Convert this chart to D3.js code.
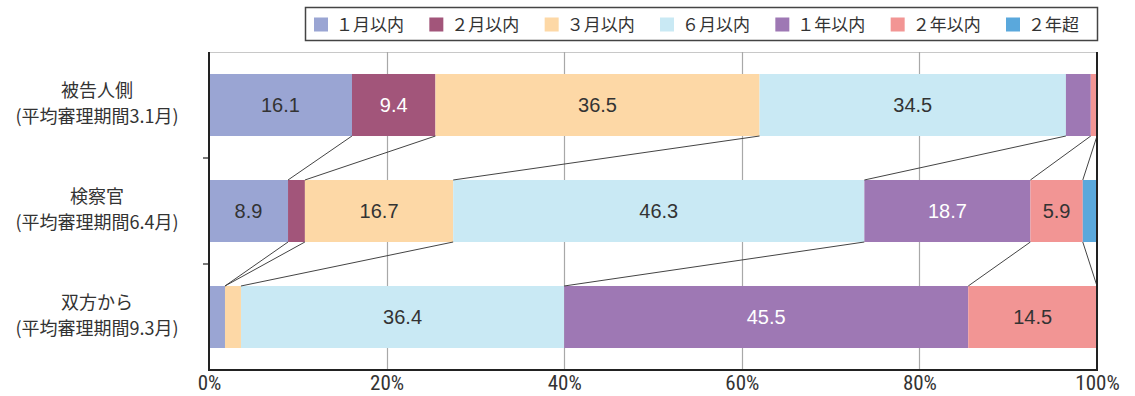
<!DOCTYPE html>
<html><head><meta charset="utf-8">
<script src="https://cdn.jsdelivr.net/npm/d3@7"></script>
<style>body{margin:0;background:#fff;}svg{display:block;}</style>
</head><body>
<svg id="c" width="1135" height="396"></svg>
<script>
const categories = ["被告人側", "検察官", "双方から"];
const subLabels = ["(平均審理期間3.1月)", "(平均審理期間6.4月)", "(平均審理期間9.3月)"];
const seriesNames = ["１月以内", "２月以内", "３月以内", "６月以内", "１年以内", "２年以内", "２年超"];
const s1 = [16.1, 8.9, 1.8];
const s2 = [9.4, 1.9, 0.0];
const s3 = [36.5, 16.7, 1.8];
const s4 = [34.5, 46.3, 36.4];
const s5 = [2.8, 18.7, 45.5];
const s6 = [0.7, 5.9, 14.5];
const s7 = [0.0, 1.6, 0.0];
const seriesValues = [s1, s2, s3, s4, s5, s6, s7];
const colors = ["#9aa5d3", "#a2557a", "#fdd8a6", "#c9e9f4", "#9e78b4", "#f29594", "#5aa8dc"];
const labelColors = ["#333", "#fff", "#333", "#333", "#fff", "#333", "#fff"];
const xTicks = [0, 20, 40, 60, 80, 100];
const labelMin = 5;

const svg = d3.select("#c");
const m = {l: 209, r: 1097, t: 52, b: 370};
const x = d3.scaleLinear().domain([0, 100]).range([m.l, m.r]);
const y = d3.scaleBand().domain(categories).range([m.t, m.b]).paddingInner(0.415).paddingOuter(0.2075);
const font = "'Noto Sans CJK JP', 'Noto Sans', sans-serif";
const numFont = "'Liberation Sans', Arial, sans-serif";

// top border
svg.append("line").attr("x1", m.l).attr("x2", m.r).attr("y1", m.t + 0.5).attr("y2", m.t + 0.5).attr("stroke", "#c8c8c8").attr("stroke-width", 1);
// gridlines
svg.append("g").selectAll("line").data(xTicks.slice(1, -1)).join("line")
  .attr("x1", d => Math.round(x(d)) + 0.5).attr("x2", d => Math.round(x(d)) + 0.5)
  .attr("y1", m.t).attr("y2", m.b).attr("stroke", "#a8a8a8").attr("stroke-width", 1.2);

// stack data
const rows = categories.map((c, i) => {
  let acc = 0;
  return seriesValues.map((sv, j) => { const v = sv[i]; const o = {cat: c, j, v, x0: acc, x1: acc + v}; acc += v; return o; });
});

// bars
rows.forEach(r => {
  svg.append("g").selectAll("rect").data(r.filter(d => d.v > 0)).join("rect")
    .attr("x", d => x(d.x0)).attr("width", d => x(d.x1) - x(d.x0))
    .attr("y", d => y(d.cat)).attr("height", y.bandwidth())
    .attr("fill", d => colors[d.j]);
});

// connecting lines
for (let i = 0; i < rows.length - 1; i++) {
  const a = rows[i], b = rows[i + 1];
  for (let j = 0; j < seriesNames.length - 1; j++) {
    const xa = x(a[j].x1), xb = x(b[j].x1);
    svg.append("line").attr("x1", xa).attr("y1", y(a[j].cat) + y.bandwidth())
      .attr("x2", xb).attr("y2", y(b[j].cat))
      .attr("stroke", "#444").attr("stroke-width", 1);
  }
}

// value labels
rows.forEach(r => {
  svg.append("g").selectAll("text").data(r.filter(d => d.v >= labelMin)).join("text")
    .attr("x", d => x((d.x0 + d.x1) / 2)).attr("y", d => y(d.cat) + y.bandwidth() / 2 + 7)
    .attr("text-anchor", "middle")
    .attr("font-family", numFont).attr("font-size", 20)
    .attr("fill", d => labelColors[d.j]).text(d => d.v.toFixed(1));
});

// axes frame
svg.append("line").attr("x1", m.l).attr("x2", m.l).attr("y1", m.t).attr("y2", m.b + 1).attr("stroke", "#222").attr("stroke-width", 2);
svg.append("line").attr("x1", m.r).attr("x2", m.r).attr("y1", m.t).attr("y2", m.b + 1).attr("stroke", "#222").attr("stroke-width", 2);
svg.append("line").attr("x1", m.l).attr("x2", m.r + 1).attr("y1", m.b).attr("y2", m.b).attr("stroke", "#222").attr("stroke-width", 2);

// y boundary ticks
const bounds = categories.slice(1).map(c => y(c) - y.step() * y.paddingInner() / 2);
svg.append("g").selectAll("line").data(bounds).join("line")
  .attr("x1", m.l - 6).attr("x2", m.l).attr("y1", d => d).attr("y2", d => d)
  .attr("stroke", "#222").attr("stroke-width", 1.2);

// x axis labels
const xAxis = d3.axisBottom(x).tickValues(xTicks).tickFormat(d => d + "%").tickSize(0).tickPadding(0);
const gx = svg.append("g").attr("transform", `translate(0,${m.b})`).call(xAxis);
gx.select(".domain").remove();
gx.selectAll("text").attr("y", 20).attr("dy", "0")
  .attr("font-family", "'Liberation Sans Narrow', 'Roboto Condensed', sans-serif")
  .attr("font-size", 21).attr("fill", "#333");

// category labels
categories.forEach((c, i) => {
  const cy = y(c) + y.bandwidth() / 2;
  const g = svg.append("g").attr("font-family", font).attr("font-size", 18).attr("fill", "#333").attr("text-anchor", "middle");
  g.append("text").attr("x", 97).attr("y", cy - 8).text(c);
  g.append("text").attr("x", 97).attr("y", cy + 18).text(subLabels[i]);
});

// legend
const lg = svg.append("g");
lg.append("rect").attr("x", 305.5).attr("y", 7.5).attr("width", 792).attr("height", 33)
  .attr("fill", "#fff").attr("stroke", "#444").attr("stroke-width", 1.5);
const lx = d3.scalePoint().domain(seriesNames).range([314, 1006]);
seriesNames.forEach((n, j) => {
  lg.append("rect").attr("x", lx(n)).attr("y", 17.5).attr("width", 14).attr("height", 14).attr("fill", colors[j]);
  lg.append("text").attr("x", lx(n) + 22).attr("y", 30.5)
    .attr("font-family", font).attr("font-size", 17).attr("fill", "#333").text(n);
});
</script>
</body></html>
